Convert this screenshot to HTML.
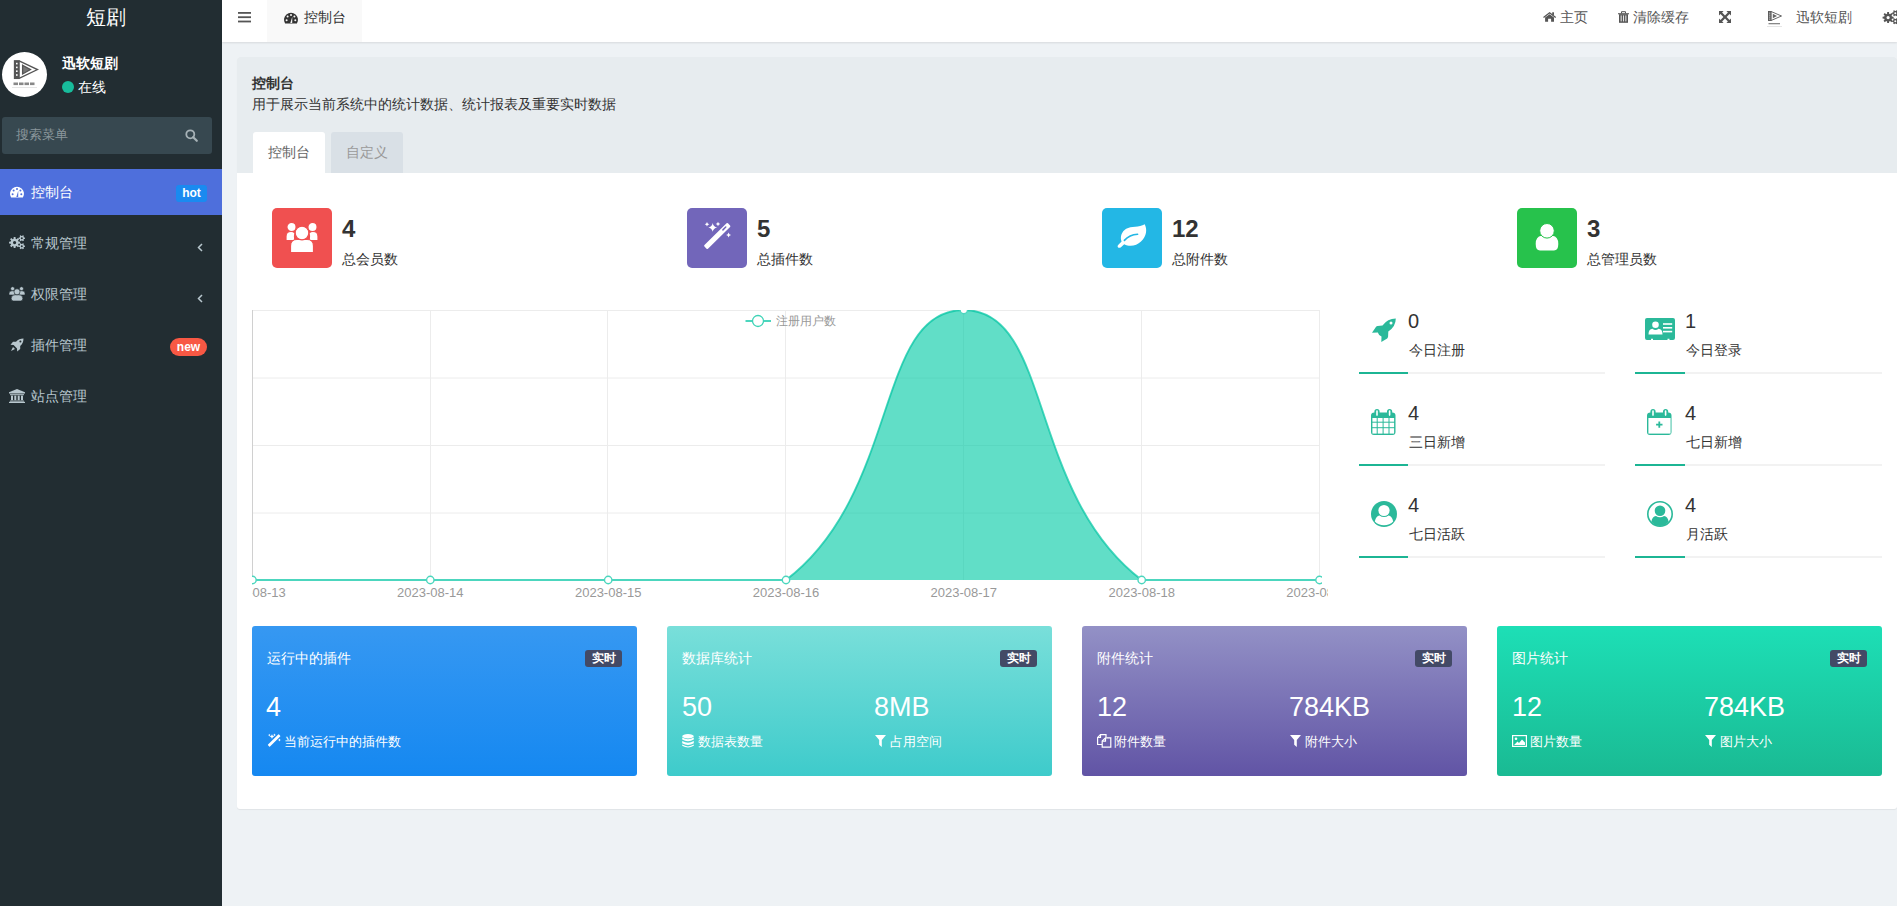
<!DOCTYPE html>
<html><head><meta charset="utf-8">
<style>
*{margin:0;padding:0;box-sizing:border-box}
html,body{width:1897px;height:906px;overflow:hidden}
body{position:relative;background:#eef2f5;font-family:"Liberation Sans",sans-serif;font-size:13px;color:#333}
.a{position:absolute;white-space:nowrap}
svg{position:absolute;overflow:visible}
#sb{position:absolute;left:0;top:0;width:222px;height:906px;background:#222d32}
#hd{position:absolute;left:222px;top:0;width:1675px;height:42px;background:#fff;box-shadow:0 1px 2px rgba(0,0,0,.1)}
.mi{position:absolute;left:31px;font-size:14px;color:#b8c7ce;line-height:14px}
.hr{font-size:14px;color:#555;line-height:14px;top:10px}
.ct{top:650px;font-size:14px;line-height:16px;color:#fff}
.bd{top:650px;width:37px;height:17px;border-radius:3px;background:#434a66;color:#fff;font-size:12px;font-weight:bold;line-height:17px;text-align:center}
.cn{top:692px;font-size:27px;line-height:30px;color:#fff}
.cs{top:734px;font-size:13px;line-height:16px;color:#fff}
</style></head><body>
<!-- SIDEBAR -->
<div id="sb">
  <div class="a" style="left:86px;top:5px;font-size:20px;line-height:24px;color:#fff">短剧</div>
  <!-- avatar -->
  <div class="a" style="left:2px;top:52px;width:45px;height:45px;border-radius:50%;background:#fff"></div>
  <svg style="left:2px;top:52px" width="45" height="45" viewBox="0 0 45 45"><g fill="none" stroke="#555" stroke-width="1.3"><rect x="12.5" y="8.8" width="4.6" height="17.6" fill="#555"/><path d="M17.1 8.8 L35.5 17.6 L17.1 26.4"/><path d="M20.6 13.2 L28.5 17.6 L20.6 22 Z" fill="#777"/></g><g fill="#fff"><rect x="14" y="10.8" width="1.6" height="1.6"/><rect x="14" y="14.6" width="1.6" height="1.6"/><rect x="14" y="18.4" width="1.6" height="1.6"/><rect x="14" y="22.2" width="1.6" height="1.6"/></g><g fill="#888"><rect x="11.5" y="30.5" width="4.5" height="2.6"/><rect x="17" y="30.5" width="4.5" height="2.6"/><rect x="22.5" y="30.5" width="4.5" height="2.6"/><rect x="28" y="30.5" width="4.5" height="2.6"/></g><rect x="10" y="35.5" width="25" height=".5" fill="#ccc"/></svg>
  <div class="a" style="left:62px;top:56px;font-size:14px;line-height:14px;color:#fff;font-weight:bold">迅软短剧</div>
  <div class="a" style="left:62px;top:81px;width:12px;height:12px;border-radius:50%;background:#18bc9c"></div>
  <div class="a" style="left:78px;top:80px;font-size:14px;line-height:14px;color:#fff">在线</div>
  <!-- search -->
  <div class="a" style="left:2px;top:117px;width:210px;height:37px;border-radius:3px;background:#374850"></div>
  <div class="a" style="left:16px;top:128px;font-size:13px;line-height:14px;color:#8b979c">搜索菜单</div>
  <svg style="left:185px;top:129px" width="13" height="13" viewBox="0 0 13 13"><circle cx="5.3" cy="5.3" r="4" fill="none" stroke="#a7b2b7" stroke-width="1.8"/><path d="M8.2 8.2 L11.8 11.8" stroke="#a7b2b7" stroke-width="2.2" stroke-linecap="round"/></svg>
  <!-- menu -->
  <div class="a" style="left:0;top:169px;width:222px;height:46px;background:#4e6fdc"></div>
  <svg style="left:10px;top:186px" width="14" height="12" viewBox="0 0 14 12"><path d="M1.1 11.5 A7 7 0 1 1 12.9 11.5 Z" fill="#fff"/><g fill="#4e6fdc"><circle cx="2.6" cy="8.2" r="1"/><circle cx="3.6" cy="4.6" r="1"/><circle cx="7" cy="3" r="1"/><circle cx="11.3" cy="8.2" r="1"/><circle cx="10.4" cy="4.6" r="1"/><path d="M6.3 11 L8.3 4.8 L8.2 11 Z"/></g></svg>
  <div class="mi a" style="top:185px;color:#fff">控制台</div>
  <div class="a" style="left:176px;top:185px;width:31px;height:17px;border-radius:3px;background:#1a8af0;color:#fff;font-size:12px;font-weight:bold;line-height:17px;text-align:center">hot</div>

  <svg style="left:9px;top:235px" width="16" height="15" viewBox="0 0 16 15"><path fill-rule="evenodd" fill="#b8c7ce" d="M9.47 6.57 L11.12 6.68 L11.12 8.52 L9.47 8.63 L9.06 9.61 L10.16 10.86 L8.86 12.16 L7.61 11.06 L6.63 11.47 L6.52 13.12 L4.68 13.12 L4.57 11.47 L3.59 11.06 L2.34 12.16 L1.04 10.86 L2.14 9.61 L1.73 8.63 L0.08 8.52 L0.08 6.68 L1.73 6.57 L2.14 5.59 L1.04 4.34 L2.34 3.04 L3.59 4.14 L4.57 3.73 L4.68 2.08 L6.52 2.08 L6.63 3.73 L7.61 4.14 L8.86 3.04 L10.16 4.34 L9.06 5.59 Z M7.20 7.60 A1.60 1.60 0 1 0 4.00 7.60 A1.60 1.60 0 1 0 7.20 7.60 Z M14.96 2.42 L15.92 2.50 L15.92 3.90 L14.96 3.98 L14.56 4.68 L14.97 5.56 L13.76 6.25 L13.21 5.46 L12.39 5.46 L11.84 6.25 L10.63 5.56 L11.04 4.68 L10.64 3.98 L9.68 3.90 L9.68 2.50 L10.64 2.42 L11.04 1.72 L10.63 0.84 L11.84 0.15 L12.39 0.94 L13.21 0.94 L13.76 0.15 L14.97 0.84 L14.56 1.72 Z M13.80 3.20 A1.00 1.00 0 1 0 11.80 3.20 A1.00 1.00 0 1 0 13.80 3.20 Z M14.96 10.42 L15.92 10.50 L15.92 11.90 L14.96 11.98 L14.56 12.68 L14.97 13.56 L13.76 14.25 L13.21 13.46 L12.39 13.46 L11.84 14.25 L10.63 13.56 L11.04 12.68 L10.64 11.98 L9.68 11.90 L9.68 10.50 L10.64 10.42 L11.04 9.72 L10.63 8.84 L11.84 8.15 L12.39 8.94 L13.21 8.94 L13.76 8.15 L14.97 8.84 L14.56 9.72 Z M13.80 11.20 A1.00 1.00 0 1 0 11.80 11.20 A1.00 1.00 0 1 0 13.80 11.20 Z"/></svg>
  <div class="mi a" style="top:236px">常规管理</div>
  <svg style="left:197px;top:243px" width="6" height="9" viewBox="0 0 6 9"><path d="M5 1 L1.5 4.5 L5 8" fill="none" stroke="#b8c7ce" stroke-width="1.5"/></svg>

  <svg style="left:9px;top:286px" width="16" height="16" viewBox="0 0 16 16"><g fill="#b8c7ce" stroke="#222d32" stroke-width=".6"><circle cx="3.6" cy="2.7" r="2"/><circle cx="12.5" cy="2.7" r="2"/><path d="M0 7.5 Q0 4.8 3 4.8 H4.5 Q6 4.8 6 7.5 V9 H0 Z"/><path d="M10 7.5 Q10 4.8 11.5 4.8 H13 Q16 4.8 16 7.5 V9 H10 Z"/><path d="M2.2 12.5 Q2.2 8.8 6 8.8 H10 Q13.8 8.8 13.8 12.5 Q13.8 15 11.5 15 H4.5 Q2.2 15 2.2 12.5 Z"/><circle cx="8" cy="5.8" r="3"/></g></svg>
  <div class="mi a" style="top:287px">权限管理</div>
  <svg style="left:197px;top:294px" width="6" height="9" viewBox="0 0 6 9"><path d="M5 1 L1.5 4.5 L5 8" fill="none" stroke="#b8c7ce" stroke-width="1.5"/></svg>

  <svg style="left:10px;top:338px" width="14" height="14" viewBox="0 0 14 14"><path d="M13.5 0.5 Q9 0.5 6 3.8 L3 3.8 L0.5 6.8 L3.6 7 L7 10.4 L7.2 13.5 L10.2 11 L10.2 8 Q13.5 5 13.5 0.5 Z M3 9 L1 13 L5 11 Z" fill="#b8c7ce"/><circle cx="10.4" cy="3.6" r="1" fill="#222d32"/></svg>
  <div class="mi a" style="top:338px">插件管理</div>
  <div class="a" style="left:170px;top:338px;width:37px;height:18px;border-radius:9px;background:#f85844;color:#fff;font-size:12px;font-weight:bold;line-height:18px;text-align:center">new</div>

  <svg style="left:9px;top:389px" width="16" height="14" viewBox="0 0 16 14"><g fill="#b8c7ce"><path d="M8 0 L16 3.2 V4.4 H0 V3.2 Z"/><rect x="1" y="5.2" width="14" height="1"/><rect x="2" y="6.6" width="2" height="4.6"/><rect x="5.3" y="6.6" width="2" height="4.6"/><rect x="8.7" y="6.6" width="2" height="4.6"/><rect x="12" y="6.6" width="2" height="4.6"/><rect x="1" y="11.6" width="14" height="1"/><rect x="0" y="12.8" width="16" height="1.2"/></g></svg>
  <div class="mi a" style="top:389px">站点管理</div>
</div>
<!-- HEADER -->
<div id="hd">
  <svg style="left:16px;top:12px" width="13" height="11" viewBox="0 0 13 11"><g fill="#555"><rect y="0" width="13" height="1.8"/><rect y="4.3" width="13" height="1.8"/><rect y="8.6" width="13" height="1.8"/></g></svg>
  <div class="a" style="left:45px;top:0;width:95px;height:42px;background:#f9f9f9"></div>
  <svg style="left:62px;top:12px" width="14" height="12" viewBox="0 0 14 12"><path d="M1.1 11.5 A7 7 0 1 1 12.9 11.5 Z" fill="#333"/><g fill="#f9f9f9"><circle cx="2.6" cy="8.2" r="1"/><circle cx="3.6" cy="4.6" r="1"/><circle cx="7" cy="3" r="1"/><circle cx="11.3" cy="8.2" r="1"/><circle cx="10.4" cy="4.6" r="1"/><path d="M6.3 11 L8.3 4.8 L8.2 11 Z"/></g></svg>
  <div class="a hr" style="left:82px;color:#333">控制台</div>
  <!-- right -->
  <svg style="left:1321px;top:12px" width="14" height="11" viewBox="0 0 14 11"><path d="M0.5 5.6 L6.6 0.8 L12.7 5.6" fill="none" stroke="#555" stroke-width="1.3"/><rect x="9.2" y="0.3" width="1.8" height="2.6" fill="#555"/><path d="M2.1 5.6 L6.6 2.2 L11 5.6 V9.8 H8.1 V6.8 H5.1 V9.8 H2.1 Z" fill="#555"/></svg>
  <div class="a hr" style="left:1338px">主页</div>
  <svg style="left:1396px;top:11px" width="11" height="12" viewBox="0 0 11 12"><path d="M3.5 2.3 V0.7 H7.5 V2.3" fill="none" stroke="#555" stroke-width="1"/><rect x="0" y="2.2" width="11" height="1.1" fill="#555"/><rect x="1" y="3.2" width="9" height="8.6" fill="#555"/><g fill="#fff" fill-opacity=".85"><rect x="2.6" y="4.4" width="1.1" height="6"/><rect x="4.95" y="4.4" width="1.1" height="6"/><rect x="7.3" y="4.4" width="1.1" height="6"/></g></svg>
  <div class="a hr" style="left:1411px">清除缓存</div>
  <svg style="left:1497px;top:11px" width="12" height="12" viewBox="0 0 12 12"><g fill="#555"><path d="M0 0 H4.6 L3.1 1.5 L6 4.4 L8.9 1.5 L7.4 0 H12 V4.6 L10.5 3.1 L7.6 6 L10.5 8.9 L12 7.4 V12 H7.4 L8.9 10.5 L6 7.6 L3.1 10.5 L4.6 12 H0 V7.4 L1.5 8.9 L4.4 6 L1.5 3.1 L0 4.6 Z"/></g></svg>
  <svg style="left:1544px;top:11px" width="17" height="16" viewBox="0 0 17 16"><g fill="none" stroke="#555" stroke-width=".9"><rect x="2.5" y="0.5" width="2.6" height="9" fill="#555"/><path d="M5.1 0.5 L15.5 5 L5.1 9.5"/></g><path d="M6.8 2.8 L11 5 L6.8 7.2 Z" fill="#666"/><g fill="#fff"><rect x="3.3" y="1.6" width="1" height="1"/><rect x="3.3" y="3.6" width="1" height="1"/><rect x="3.3" y="5.6" width="1" height="1"/><rect x="3.3" y="7.6" width="1" height="1"/></g><rect x="2.5" y="12" width="11.5" height="1.3" fill="#888"/><rect x="1" y="15" width="15" height=".5" fill="#ccc"/></svg>
  <div class="a hr" style="left:1574px">迅软短剧</div>
  <svg style="left:1660px;top:10px" width="17" height="15" viewBox="0 0 16 15"><path fill-rule="evenodd" fill="#555" d="M9.47 6.57 L11.12 6.68 L11.12 8.52 L9.47 8.63 L9.06 9.61 L10.16 10.86 L8.86 12.16 L7.61 11.06 L6.63 11.47 L6.52 13.12 L4.68 13.12 L4.57 11.47 L3.59 11.06 L2.34 12.16 L1.04 10.86 L2.14 9.61 L1.73 8.63 L0.08 8.52 L0.08 6.68 L1.73 6.57 L2.14 5.59 L1.04 4.34 L2.34 3.04 L3.59 4.14 L4.57 3.73 L4.68 2.08 L6.52 2.08 L6.63 3.73 L7.61 4.14 L8.86 3.04 L10.16 4.34 L9.06 5.59 Z M7.20 7.60 A1.60 1.60 0 1 0 4.00 7.60 A1.60 1.60 0 1 0 7.20 7.60 Z M14.96 2.42 L15.92 2.50 L15.92 3.90 L14.96 3.98 L14.56 4.68 L14.97 5.56 L13.76 6.25 L13.21 5.46 L12.39 5.46 L11.84 6.25 L10.63 5.56 L11.04 4.68 L10.64 3.98 L9.68 3.90 L9.68 2.50 L10.64 2.42 L11.04 1.72 L10.63 0.84 L11.84 0.15 L12.39 0.94 L13.21 0.94 L13.76 0.15 L14.97 0.84 L14.56 1.72 Z M13.80 3.20 A1.00 1.00 0 1 0 11.80 3.20 A1.00 1.00 0 1 0 13.80 3.20 Z M14.96 10.42 L15.92 10.50 L15.92 11.90 L14.96 11.98 L14.56 12.68 L14.97 13.56 L13.76 14.25 L13.21 13.46 L12.39 13.46 L11.84 14.25 L10.63 13.56 L11.04 12.68 L10.64 11.98 L9.68 11.90 L9.68 10.50 L10.64 10.42 L11.04 9.72 L10.63 8.84 L11.84 8.15 L12.39 8.94 L13.21 8.94 L13.76 8.15 L14.97 8.84 L14.56 9.72 Z M13.80 11.20 A1.00 1.00 0 1 0 11.80 11.20 A1.00 1.00 0 1 0 13.80 11.20 Z"/></svg>
</div>
<!-- CONTENT -->
<div class="a" style="left:237px;top:57px;width:1660px;height:752px;border-radius:3px;background:#fff;box-shadow:0 1px 1px rgba(0,0,0,.06)"></div>
<div class="a" style="left:237px;top:57px;width:1660px;height:116px;border-radius:3px 3px 0 0;background:#e7ecef"></div>
<div class="a" style="left:252px;top:76px;font-size:14px;line-height:15px;font-weight:bold;color:#333">控制台</div>
<div class="a" style="left:252px;top:97px;font-size:14px;line-height:15px;color:#333">用于展示当前系统中的统计数据、统计报表及重要实时数据</div>
<div class="a" style="left:253px;top:132px;width:72px;height:41px;border-radius:3px 3px 0 0;background:#fff"></div>
<div class="a" style="left:268px;top:145px;font-size:14px;line-height:15px;color:#666">控制台</div>
<div class="a" style="left:331px;top:132px;width:72px;height:41px;border-radius:3px 3px 0 0;background:#d9e0e6"></div>
<div class="a" style="left:346px;top:145px;font-size:14px;line-height:15px;color:#999">自定义</div>

<!-- top stats -->
<div class="a" style="left:272px;top:208px;width:60px;height:60px;border-radius:5px;background:#f05050"></div>
<svg style="left:286px;top:222px" width="32" height="31" viewBox="0 0 32 31"><g fill="#fff" stroke="#f05050" stroke-width="1.2"><circle cx="5.5" cy="5" r="4.6"/><circle cx="26.5" cy="5" r="4.6"/><path d="M0 14.5 Q0 9.5 5 9.5 Q7.5 9.5 9 11 Q8 14 8.8 18.5 H0 Z"/><path d="M32 14.5 Q32 9.5 27 9.5 Q24.5 9.5 23 11 Q24 14 23.2 18.5 H32 Z"/><path d="M4.5 30.5 V24 Q4.5 17.5 11 17.5 H21 Q27.5 17.5 27.5 24 V30.5 Z"/><circle cx="16" cy="11" r="6.8"/></g></svg>
<div class="a" style="left:342px;top:215px;font-size:24px;line-height:28px;font-weight:bold;color:#333">4</div>
<div class="a" style="left:342px;top:251px;font-size:14px;line-height:16px;color:#333">总会员数</div>

<div class="a" style="left:687px;top:208px;width:60px;height:60px;border-radius:5px;background:#7266ba"></div>
<svg style="left:702px;top:222px" width="30" height="30" viewBox="0 0 30 30"><g fill="#fff"><rect x="-1.25" y="11.5" width="33" height="5" rx="1" transform="rotate(-44.5 15.25 14)"/><path d="M10.70 1.00 Q11.36 4.74 15.10 5.40 Q11.36 6.06 10.70 9.80 Q10.04 6.06 6.30 5.40 Q10.04 4.74 10.70 1.00 Z M5.00 0.00 Q5.34 1.95 7.30 2.30 Q5.34 2.64 5.00 4.60 Q4.66 2.64 2.70 2.30 Q4.66 1.95 5.00 0.00 Z M16.00 -0.30 Q16.34 1.66 18.30 2.00 Q16.34 2.34 16.00 4.30 Q15.65 2.34 13.70 2.00 Q15.65 1.66 16.00 -0.30 Z M26.60 10.40 Q26.98 12.53 29.10 12.90 Q26.98 13.28 26.60 15.40 Q26.23 13.28 24.10 12.90 Q26.23 12.53 26.60 10.40 Z"/></g><rect x="19.6" y="5.7" width="5.5" height="1.5" rx=".75" fill="#7266ba" transform="rotate(-44.5 22.35 6.45)"/></svg>
<div class="a" style="left:757px;top:215px;font-size:24px;line-height:28px;font-weight:bold;color:#333">5</div>
<div class="a" style="left:757px;top:251px;font-size:14px;line-height:16px;color:#333">总插件数</div>

<div class="a" style="left:1102px;top:208px;width:60px;height:60px;border-radius:5px;background:#23b7e5"></div>
<svg style="left:1117px;top:223px" width="31" height="26" viewBox="0 0 31 26"><path d="M27.7 1.2 C30.3 6 29.8 13 24 18.5 C19.5 23 12.5 24.2 7.2 21.2 L4.2 24 Q2.2 25.6 0.9 24.2 Q-0.2 22.8 1.6 21.4 L4.6 18.6 C2.8 14 4.5 8.8 9.2 5.8 C14.2 2.6 22.2 4.8 27.7 1.2 Z" fill="#fff"/><path d="M7.4 17.4 Q12.5 11.6 20.6 11.2" fill="none" stroke="#23b7e5" stroke-width="1.6" stroke-linecap="round"/></svg>
<div class="a" style="left:1172px;top:215px;font-size:24px;line-height:28px;font-weight:bold;color:#333">12</div>
<div class="a" style="left:1172px;top:251px;font-size:14px;line-height:16px;color:#333">总附件数</div>

<div class="a" style="left:1517px;top:208px;width:60px;height:60px;border-radius:5px;background:#27c24c"></div>
<svg style="left:1535px;top:223px" width="24" height="29" viewBox="0 0 24 29"><path d="M0.7 21 Q0.7 13.5 6.5 12.8 Q9 14.6 12 14.6 Q15 14.6 17.5 12.8 Q23.3 13.5 23.3 21 Q23.3 27.5 19 27.5 H5 Q0.7 27.5 0.7 21 Z" fill="#fff"/><circle cx="12" cy="7.8" r="7.3" fill="#fff" stroke="#27c24c" stroke-width="1"/></svg>
<div class="a" style="left:1587px;top:215px;font-size:24px;line-height:28px;font-weight:bold;color:#333">3</div>
<div class="a" style="left:1587px;top:251px;font-size:14px;line-height:16px;color:#333">总管理员数</div>

<!-- chart -->
<svg style="left:0;top:0" width="1897" height="906" viewBox="0 0 1897 906">
  <defs><clipPath id="cp"><rect x="252" y="309" width="1076" height="300"/></clipPath>
  <clipPath id="cp2"><rect x="252" y="310" width="1070" height="280"/></clipPath></defs>
  <g stroke="#ececec" stroke-width="1" fill="none">
    <path d="M252 310.5 H1319.5 M252 378 H1319.5 M252 445.5 H1319.5 M252 513 H1319.5"/>
    <path d="M430.5 310 V580 M607.5 310 V580 M785.5 310 V580 M963.5 310 V580 M1141.5 310 V580 M1319.5 310 V580"/>
  </g>
  <path d="M252.5 310 V580" stroke="#d0d0d0" stroke-width="1"/>
  <g clip-path="url(#cp2)">
  <path d="M252.5 580 L786 580 C900.7 492.9 874.9 310 963.8 310 C1052.7 310 1026.9 492.9 1141.7 580 L1319.5 580 Z" fill="#00c9a5" fill-opacity="0.62"/>
  <path d="M252.5 580 L786 580 C900.7 492.9 874.9 310 963.8 310 C1052.7 310 1026.9 492.9 1141.7 580 L1319.5 580" fill="none" stroke="#00c4a2" stroke-opacity="0.7" stroke-width="1.9"/>
  <g fill="#fff" stroke="#4cd6be" stroke-width="1.4">
    <circle cx="252.5" cy="580" r="3.7"/><circle cx="430.3" cy="580" r="3.7"/><circle cx="608.2" cy="580" r="3.7"/><circle cx="786" cy="580" r="3.7"/><circle cx="963.8" cy="310" r="3.7"/><circle cx="1141.7" cy="580" r="3.7"/><circle cx="1319.5" cy="580" r="3.7"/>
  </g>
  </g>
  <g clip-path="url(#cp)" style="font-family:'Liberation Sans',sans-serif" font-size="13" fill="#999" text-anchor="middle">
    <text x="252.5" y="597">2023-08-13</text><text x="430.3" y="597">2023-08-14</text><text x="608.2" y="597">2023-08-15</text><text x="786" y="597">2023-08-16</text><text x="963.8" y="597">2023-08-17</text><text x="1141.7" y="597">2023-08-18</text><text x="1319.5" y="597">2023-08-19</text>
  </g>
  <path d="M745.5 321 H771" stroke="#4cd6be" stroke-width="2"/>
  <circle cx="758" cy="321" r="5.5" fill="#fff" stroke="#3dd3b6" stroke-width="1.3"/>
  <text x="776" y="325" style="font-family:'Liberation Sans',sans-serif" font-size="12" fill="#999">注册用户数</text>
</svg>

<!-- right stats -->
<div class="a" style="left:1359px;top:372px;width:246px;height:2px;background:#f2f2f2"></div>
<div class="a" style="left:1359px;top:372px;width:49px;height:2px;background:#1cb594"></div>
<div class="a" style="left:1635px;top:372px;width:247px;height:2px;background:#f2f2f2"></div>
<div class="a" style="left:1635px;top:372px;width:50px;height:2px;background:#1cb594"></div>
<div class="a" style="left:1359px;top:464px;width:246px;height:2px;background:#f2f2f2"></div>
<div class="a" style="left:1359px;top:464px;width:49px;height:2px;background:#1cb594"></div>
<div class="a" style="left:1635px;top:464px;width:247px;height:2px;background:#f2f2f2"></div>
<div class="a" style="left:1635px;top:464px;width:50px;height:2px;background:#1cb594"></div>
<div class="a" style="left:1359px;top:556px;width:246px;height:2px;background:#f2f2f2"></div>
<div class="a" style="left:1359px;top:556px;width:49px;height:2px;background:#1cb594"></div>
<div class="a" style="left:1635px;top:556px;width:247px;height:2px;background:#f2f2f2"></div>
<div class="a" style="left:1635px;top:556px;width:50px;height:2px;background:#1cb594"></div>

<svg style="left:1372px;top:318px" width="24" height="24" viewBox="0 0 24 24"><path d="M23.8 0.6 Q15.5 0.6 10.5 7.6 L5.6 8 Q4.6 8.2 3.9 9 L0 14.8 L5.8 14.6 Q6.5 17.4 9.5 18.4 L9.3 24 L15.2 20.4 Q16 19.6 16.1 18.6 L16.3 13.6 Q23.8 8.6 23.8 0.6 Z" fill="#2bb99a"/><circle cx="19" cy="5" r="1.5" fill="#fff"/></svg>
<div class="a" style="left:1408px;top:309px;font-size:20px;line-height:24px;color:#333">0</div>
<div class="a" style="left:1409px;top:342px;font-size:14px;line-height:16px;color:#333">今日注册</div>

<svg style="left:1645px;top:318px" width="30" height="23" viewBox="0 0 30 23"><path d="M2 0 H28 Q30 0 30 2 V20 Q30 22 28 22 H24.5 V20.8 H22.5 V22 H8 V20.8 H6 V22 H2 Q0 22 0 20 V2 Q0 0 2 0 Z" fill="#2bb99a"/><g fill="#fff"><circle cx="10.5" cy="6.8" r="3.3"/><path d="M3.5 16.5 Q3.5 11 7.5 10.8 Q9 12 10.5 12 Q12 12 13.5 10.8 Q17.5 11 17.5 16.5 Z"/><rect x="18" y="5.2" width="9.2" height="1.6"/><rect x="18" y="9" width="9.2" height="1.6"/><rect x="18" y="12.8" width="9.2" height="1.6"/></g></svg>
<div class="a" style="left:1685px;top:309px;font-size:20px;line-height:24px;color:#333">1</div>
<div class="a" style="left:1686px;top:342px;font-size:14px;line-height:16px;color:#333">今日登录</div>

<svg style="left:1371px;top:409px" width="25" height="26" viewBox="0 0 25 26"><path d="M6 0 Q8.6 0 8.6 2.6 V3.5 H16 V2.6 Q16 0 18.6 0 Q21.2 0 21.2 2.6 V3.5 Q24.5 3.5 24.5 6.5 V23 Q24.5 26 21.5 26 H3 Q0 26 0 23 V6.5 Q0 3.5 3.4 3.5 V2.6 Q3.4 0 6 0 Z" fill="#2bb99a"/><g fill="#fff"><rect x="5.2" y="1.3" width="1.6" height="5.6" rx=".8"/><rect x="17.8" y="1.3" width="1.6" height="5.6" rx=".8"/><rect x="1.4" y="9" width="4.3" height="3.7"/><rect x="6.7" y="9" width="4.9" height="3.7"/><rect x="12.6" y="9" width="4.9" height="3.7"/><rect x="18.5" y="9" width="4.6" height="3.7"/><rect x="1.4" y="13.7" width="4.3" height="4.5"/><rect x="6.7" y="13.7" width="4.9" height="4.5"/><rect x="12.6" y="13.7" width="4.9" height="4.5"/><rect x="18.5" y="13.7" width="4.6" height="4.5"/><rect x="1.4" y="19.2" width="4.3" height="5.4"/><rect x="6.7" y="19.2" width="4.9" height="5.4"/><rect x="12.6" y="19.2" width="4.9" height="5.4"/><rect x="18.5" y="19.2" width="4.6" height="5.4"/></g></svg>
<div class="a" style="left:1408px;top:401px;font-size:20px;line-height:24px;color:#333">4</div>
<div class="a" style="left:1409px;top:434px;font-size:14px;line-height:16px;color:#333">三日新增</div>

<svg style="left:1647px;top:409px" width="25" height="26" viewBox="0 0 25 26"><path d="M6 0 Q8.6 0 8.6 2.6 V3.5 H16 V2.6 Q16 0 18.6 0 Q21.2 0 21.2 2.6 V3.5 Q24.5 3.5 24.5 6.5 V23 Q24.5 26 21.5 26 H3 Q0 26 0 23 V6.5 Q0 3.5 3.4 3.5 V2.6 Q3.4 0 6 0 Z" fill="#2bb99a"/><g fill="#fff"><rect x="5.2" y="1.3" width="1.6" height="5.6" rx=".8"/><rect x="17.8" y="1.3" width="1.6" height="5.6" rx=".8"/><rect x="1.4" y="9" width="22.2" height="15.6"/></g><path d="M12.3 12.5 V18.8 M9.1 15.6 H15.5" stroke="#2bb99a" stroke-width="1.8"/></svg>
<div class="a" style="left:1685px;top:401px;font-size:20px;line-height:24px;color:#333">4</div>
<div class="a" style="left:1686px;top:434px;font-size:14px;line-height:16px;color:#333">七日新增</div>

<svg style="left:1371px;top:501px" width="26" height="26" viewBox="0 0 26 26"><circle cx="13" cy="13" r="13" fill="#2bb99a"/><g fill="#fff"><circle cx="13" cy="9.5" r="5.6"/><path d="M3.8 20.5 Q5 15 8.5 14.5 Q10.5 16 13 16 Q15.5 16 17.5 14.5 Q21 15 22.2 20.5 Q18.6 24.3 13 24.3 Q7.4 24.3 3.8 20.5 Z"/></g><circle cx="13" cy="9.5" r="5.6" fill="none" stroke="#2bb99a" stroke-width="0"/></svg>
<div class="a" style="left:1408px;top:493px;font-size:20px;line-height:24px;color:#333">4</div>
<div class="a" style="left:1409px;top:526px;font-size:14px;line-height:16px;color:#333">七日活跃</div>

<svg style="left:1647px;top:501px" width="26" height="26" viewBox="0 0 26 26"><circle cx="13" cy="13" r="12.2" fill="none" stroke="#2bb99a" stroke-width="1.6"/><g fill="#2bb99a"><circle cx="13" cy="9.8" r="5.3"/><path d="M4.4 20.8 Q5 15.5 9 15 Q10.8 16.2 13 16.2 Q15.2 16.2 17 15 Q21 15.5 21.6 20.8 Q18.2 25 13 25 Q7.8 25 4.4 20.8 Z"/></g></svg>
<div class="a" style="left:1685px;top:493px;font-size:20px;line-height:24px;color:#333">4</div>
<div class="a" style="left:1686px;top:526px;font-size:14px;line-height:16px;color:#333">月活跃</div>

<!-- cards -->
<div class="a" style="left:252px;top:626px;width:385px;height:150px;border-radius:3px;background:linear-gradient(#3698f2,#1588f1)"></div>
<div class="a" style="left:667px;top:626px;width:385px;height:150px;border-radius:3px;background:linear-gradient(#79dfda,#3ecbcb)"></div>
<div class="a" style="left:1082px;top:626px;width:385px;height:150px;border-radius:3px;background:linear-gradient(#9391c6,#6154a5)"></div>
<div class="a" style="left:1497px;top:626px;width:385px;height:150px;border-radius:3px;background:linear-gradient(#1ddfb6,#1aba93)"></div>

<div class="ct a" style="left:267px">运行中的插件</div><div class="bd a" style="left:585px">实时</div>
<div class="cn a" style="left:266px">4</div>
<svg style="left:267px;top:734px" width="14" height="14" viewBox="0 0 30 30"><g fill="#fff"><rect x="-1.25" y="11" width="33" height="6" rx="1.2" transform="rotate(-44.5 15.25 14)"/><path d="M10.70 0.40 Q11.45 4.65 15.70 5.40 Q11.45 6.15 10.70 10.40 Q9.95 6.15 5.70 5.40 Q9.95 4.65 10.70 0.40 Z M5.00 -0.70 Q5.45 1.85 8.00 2.30 Q5.45 2.75 5.00 5.30 Q4.55 2.75 2.00 2.30 Q4.55 1.85 5.00 -0.70 Z M16.00 -1.00 Q16.45 1.55 19.00 2.00 Q16.45 2.45 16.00 5.00 Q15.55 2.45 13.00 2.00 Q15.55 1.55 16.00 -1.00 Z M26.60 9.90 Q27.05 12.45 29.60 12.90 Q27.05 13.35 26.60 15.90 Q26.15 13.35 23.60 12.90 Q26.15 12.45 26.60 9.90 Z"/></g></svg>
<div class="cs a" style="left:284px">当前运行中的插件数</div>

<div class="ct a" style="left:682px">数据库统计</div><div class="bd a" style="left:1000px">实时</div>
<div class="cn a" style="left:682px">50</div><div class="cn a" style="left:874px">8MB</div>
<svg style="left:682px;top:734px" width="12" height="14" viewBox="0 0 12 14"><g fill="#fff"><ellipse cx="6" cy="2.2" rx="5.8" ry="2.2"/><path d="M0.2 3.4 Q6 7 11.8 3.4 V5.6 Q6 9 0.2 5.6 Z"/><path d="M0.2 7 Q6 10.6 11.8 7 V9.2 Q6 12.6 0.2 9.2 Z"/><path d="M0.2 10.6 Q6 14.2 11.8 10.6 V11.8 Q6 15.4 0.2 11.8 Z"/></g></svg>
<div class="cs a" style="left:698px">数据表数量</div>
<svg style="left:875px;top:735px" width="11" height="12" viewBox="0 0 11 12"><path d="M0 0 H11 L6.8 5 V12 L4.2 9.8 V5 Z" fill="#fff"/></svg>
<div class="cs a" style="left:890px">占用空间</div>

<div class="ct a" style="left:1097px">附件统计</div><div class="bd a" style="left:1415px">实时</div>
<div class="cn a" style="left:1097px">12</div><div class="cn a" style="left:1289px">784KB</div>
<svg style="left:1097px;top:734px" width="15" height="14" viewBox="0 0 15 14"><g fill="none" stroke="#fff" stroke-width="1.2" stroke-linejoin="miter"><path d="M9 3.2 V0.6 H3.5 L0.6 3.5 V10.5 H5"/><path d="M3.5 0.6 V3.5 H0.6"/><path d="M8.5 3.8 H13.8 V13.2 H5.2 V7.1 Z"/><path d="M8.5 3.8 V7.1 H5.2"/></g></svg>
<div class="cs a" style="left:1114px">附件数量</div>
<svg style="left:1290px;top:735px" width="11" height="12" viewBox="0 0 11 12"><path d="M0 0 H11 L6.8 5 V12 L4.2 9.8 V5 Z" fill="#fff"/></svg>
<div class="cs a" style="left:1305px">附件大小</div>

<div class="ct a" style="left:1512px">图片统计</div><div class="bd a" style="left:1830px">实时</div>
<div class="cn a" style="left:1512px">12</div><div class="cn a" style="left:1704px">784KB</div>
<svg style="left:1512px;top:735px" width="15" height="12" viewBox="0 0 15 12"><rect x=".6" y=".6" width="13.8" height="10.8" fill="none" stroke="#fff" stroke-width="1.2"/><circle cx="4" cy="3.8" r="1.3" fill="#fff"/><path d="M2 10 L5.5 6.5 L7 8 L10 4.5 L13 7.5 V10 Z" fill="#fff"/></svg>
<div class="cs a" style="left:1530px">图片数量</div>
<svg style="left:1705px;top:735px" width="11" height="12" viewBox="0 0 11 12"><path d="M0 0 H11 L6.8 5 V12 L4.2 9.8 V5 Z" fill="#fff"/></svg>
<div class="cs a" style="left:1720px">图片大小</div>

</body></html>
